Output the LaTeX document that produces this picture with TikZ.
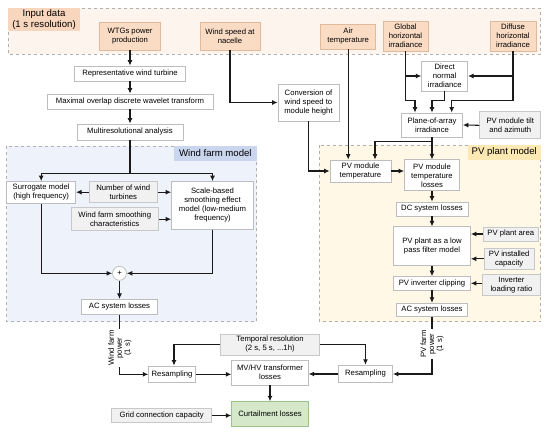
\documentclass[tikz,border=0pt]{standalone}
\usepackage{fontspec}
\setmainfont{Liberation Sans}
\usetikzlibrary{arrows.meta,calc}
\definecolor{orfill}{HTML}{FADCC5}
\definecolor{ordraw}{HTML}{E0BA9C}
\definecolor{inbg}{HTML}{FDF4EE}
\definecolor{inlab}{HTML}{F8D6BE}
\definecolor{gyfill}{HTML}{F1F1F1}
\definecolor{gydraw}{HTML}{C8C8C8}
\definecolor{wtdraw}{HTML}{BDBDBD}
\definecolor{dashc}{HTML}{B0B0B0}
\definecolor{wbg}{HTML}{EEF2FA}
\definecolor{wlab}{HTML}{CAD5EE}
\definecolor{pbg}{HTML}{FFF8E7}
\definecolor{plab}{HTML}{FCE8B2}
\definecolor{gnfill}{HTML}{D5E8C9}
\definecolor{gndraw}{HTML}{9CC48A}
\definecolor{lnc}{HTML}{1A1A1A}
\tikzset{
  base/.style={rectangle, inner sep=0pt, align=center, font=\fontsize{7.7}{9}\selectfont, line width=0.75pt},
  wbox/.style={base, draw=wtdraw, fill=white},
  obox/.style={base, draw=ordraw, fill=orfill},
  gbox/.style={base, draw=gydraw, fill=gyfill},
  grbox/.style={base, draw=gndraw, fill=gnfill},
  region/.style={draw=dashc, dashed, line width=0.7pt},
  lab/.style={inner sep=0pt, align=center, font=\fontsize{9.6}{10.5}\selectfont},
  arr/.style={-{Latex[length=5.5pt,width=5pt]}, line width=1.05pt, draw=lnc},
  rlab/.style={rotate=90, fill=white, inner sep=1pt, align=center, font=\fontsize{7.7}{8}\selectfont}
}
\begin{document}
\begin{tikzpicture}[x=1pt,y=-1pt]
\useasboundingbox (0,0) rectangle (550,432);
% regions
\draw[region, fill=inbg] (8,8) rectangle (540.7,54);
\node[lab, fill=inlab, minimum width=72pt, minimum height=23pt] (inlabel) at (44,19.5) {Input data\\(1 s resolution)};
\draw[region, fill=wbg] (6.7,146) rectangle (256.7,321.7);
\node[lab, fill=wlab, minimum width=82.7pt, minimum height=15pt] (wlabel) at (215.35,153.5) {Wind farm model};
\draw[region, fill=pbg] (319.3,145) rectangle (540.7,321.7);
\node[lab, fill=plab, minimum width=73pt, minimum height=15pt] (plabel) at (504.2,152.5) {PV plant model};
% input boxes
\node[obox, minimum width=61pt, minimum height=28pt] (wtg) at (130,36) {WTGs power\\production};
\node[obox, minimum width=60pt, minimum height=28pt] (wsn) at (230,36) {Wind speed at\\nacelle};
\node[obox, minimum width=55pt, minimum height=25pt] (air) at (348.2,36.5) {Air\\temperature};
\node[obox, minimum width=45pt, minimum height=30pt] (ghi) at (405.5,36) {Global\\horizontal\\irradiance};
\node[obox, minimum width=46pt, minimum height=30pt] (dhi) at (513,36) {Diffuse\\horizontal\\irradiance};
% wind chain
\node[wbox, minimum width=111pt, minimum height=15pt] (rwt) at (130,73.5) {Representative wind turbine};
\node[wbox, minimum width=166pt, minimum height=15pt] (modwt) at (130,101.5) {Maximal overlap discrete wavelet transform};
\node[wbox, minimum width=106pt, minimum height=16pt] (mra) at (130,132) {Multiresolutional analysis};
\node[wbox, minimum width=69pt, minimum height=22pt] (sur) at (41.2,192.5) {Surrogate model\\(high frequency)};
\node[gbox, minimum width=68pt, minimum height=21pt] (nwt) at (123.3,192.2) {Number of wind\\turbines};
\node[wbox, minimum width=82pt, minimum height=48pt] (sbs) at (212.5,205.5) {Scale-based\\smoothing effect\\model (low-medium\\frequency)};
\node[gbox, minimum width=87pt, minimum height=23pt] (wfs) at (114.7,219.2) {Wind farm smoothing\\characteristics};
\node[circle, draw=wtdraw, fill=white, line width=0.75pt, minimum size=14pt, inner sep=0pt, font=\fontsize{7.7}{9}\selectfont] (plus) at (119.5,273.3) {+};
\node[wbox, minimum width=75.6pt, minimum height=15pt] (acw) at (119.5,306.8) {AC system losses};
% pv chain
\node[wbox, minimum width=61pt, minimum height=37pt] (conv) at (308.5,102.5) {Conversion of\\wind speed to\\module height};
\node[wbox, minimum width=46pt, minimum height=30pt] (dni) at (444.7,76) {Direct\\normal\\irradiance};
\node[wbox, minimum width=61pt, minimum height=24pt] (poa) at (432,125) {Plane-of-array\\irradiance};
\node[gbox, minimum width=61pt, minimum height=27pt] (tilt) at (510.3,125.3) {PV module tilt\\and azimuth};
\node[wbox, minimum width=61pt, minimum height=22pt] (pvmt) at (360.5,171) {PV module\\temperature};
\node[wbox, minimum width=55pt, minimum height=31pt] (pvmtl) at (432,175.3) {PV module\\temperature\\losses};
\node[wbox, minimum width=72pt, minimum height=14pt] (dc) at (432,209) {DC system losses};
\node[wbox, minimum width=77pt, minimum height=39pt] (lpf) at (432,246.3) {PV plant as a low\\pass filter model};
\node[gbox, minimum width=55pt, minimum height=14pt] (area) at (510.8,234) {PV plant area};
\node[gbox, minimum width=50pt, minimum height=21pt] (cap) at (509.2,258.8) {PV installed\\capacity};
\node[wbox, minimum width=77pt, minimum height=13.5pt] (clip) at (432,283.3) {PV inverter clipping};
\node[gbox, minimum width=58pt, minimum height=21pt] (ilr) at (511.5,284.7) {Inverter\\loading ratio};
\node[wbox, minimum width=71pt, minimum height=13pt] (acpv) at (432,309.7) {AC system losses};
% bottom
\node[wbox, minimum width=46.7pt, minimum height=16.7pt] (resl) at (172,374.3) {Resampling};
\node[gbox, minimum width=98.6pt, minimum height=21pt] (temp) at (270,344.5) {Temporal resolution\\(2 s, 5 s, ...1h)};
\node[wbox, minimum width=76.6pt, minimum height=25pt] (mvhv) at (270,372.5) {MV/HV transformer\\losses};
\node[wbox, minimum width=54pt, minimum height=17.7pt] (resr) at (365.5,374) {Resampling};
\node[grbox, minimum width=76.6pt, minimum height=25pt] (curt) at (270,414.2) {Curtailment losses};
\node[gbox, minimum width=100pt, minimum height=14.4pt] (grid) at (161.7,415.5) {Grid connection capacity};
% wind connectors
\draw[arr] (wtg.south) -- (rwt.north);
\draw[arr] (rwt.south) -- (modwt.north);
\draw[arr] (modwt.south) -- (mra.north);
\coordinate (split) at ($(mra.south)+(0,33)$);
\draw[arr] (mra.south) -- (split) -| (sur.north);
\draw[arr] (split) -| (sbs.north);
\draw[arr] (nwt.west) -- (sur.east |- nwt.west);
\draw[arr] (nwt.east) -- (sbs.west |- nwt.east);
\draw[arr] (wfs.east) -- (sbs.west |- wfs.east);
\draw[arr] (sur.south) |- (plus.west);
\draw[arr] (sbs.south) |- (plus.east);
\draw[arr] (plus.south) -- (acw.north);
\draw[arr] (acw.south) |- (resl.west);
\node[rlab] (wfp) at (120,348) {Wind farm\\power\\(1 s)};
% pv connectors
\draw[arr] (wsn.south) |- (conv.west);
\draw[arr] (air.south) -- (air.south |- pvmt.north);
\coordinate (gy) at ($(ghi.south)+(0,49)$);
\draw[arr] (ghi.south) -- (gy) -| ([xshift=-17pt]poa.north);
\draw[arr] (ghi.south |- dni.west) -- (dni.west);
\draw[arr] (dni.south) -- (dni.south |- gy) -| (poa.north);
\draw[arr] (dhi.south) -- (dhi.south |- gy) -| ([xshift=19.7pt]poa.north);
\draw[arr] (dhi.south |- dni.east) -- (dni.east);
\draw[arr] (tilt.west) -- (poa.east);
\coordinate (py) at ($(poa.south)+(0,4)$);
\draw[arr] (poa.south) -- (pvmtl.north);
\draw[arr] (py) -| ([xshift=14.5pt]pvmt.north);
\draw[arr] (conv.south) |- (pvmt.west);
\draw[arr] (pvmt.east) -- (pvmtl.west |- pvmt.east);
\draw[arr] (pvmtl.south) -- (dc.north);
\draw[arr] (dc.south) -- (lpf.north);
\draw[arr] (lpf.south) -- (clip.north);
\draw[arr] (clip.south) -- (acpv.north);
\draw[arr] (area.west) -- (lpf.east |- area.west);
\draw[arr] (cap.west) -- (lpf.east |- cap.west);
\draw[arr] (ilr.west |- clip.east) -- (clip.east);
\draw[arr] (acpv.south) |- (resr.east);
\node[rlab] (pvp) at (432.2,344) {PV farm\\power\\(1 s)};
% bottom connectors
\draw[arr] (temp.west) -| ([xshift=2pt]resl.north);
\draw[arr] (temp.east) -| (resr.north);
\draw[arr] (resl.east) -- (mvhv.west |- resl.east);
\draw[arr] (resr.west) -- (mvhv.east |- resr.west);
\draw[arr] (mvhv.south) -- (curt.north);
\draw[arr] (grid.east) -- (curt.west |- grid.east);
\end{tikzpicture}
\end{document}
